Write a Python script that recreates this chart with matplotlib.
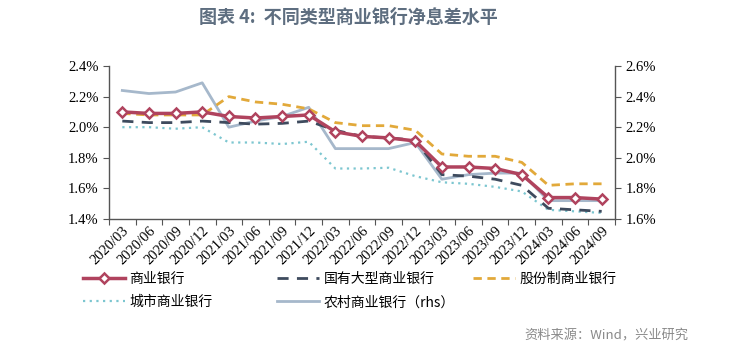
import numpy as np
import matplotlib
matplotlib.use("Agg")
import matplotlib.pyplot as plt
from matplotlib.ticker import FuncFormatter

plt.rcParams['font.family'] = ['Noto Sans CJK SC', 'DejaVu Sans']

quarters = ["2020/03", "2020/06", "2020/09", "2020/12", "2021/03", "2021/06",
            "2021/09", "2021/12", "2022/03", "2022/06", "2022/09", "2022/12",
            "2023/03", "2023/06", "2023/09", "2023/12", "2024/03", "2024/06",
            "2024/09"]

# 净息差 (%)
commercial = [2.10, 2.09, 2.09, 2.10, 2.07, 2.06, 2.07, 2.08, 1.97, 1.94,
              1.93, 1.91, 1.74, 1.74, 1.73, 1.69, 1.54, 1.54, 1.53]
large = [2.04, 2.03, 2.03, 2.04, 2.03, 2.02, 2.025, 2.04, 1.98, 1.94,
         1.93, 1.915, 1.69, 1.68, 1.66, 1.62, 1.47, 1.46, 1.45]
joint = [2.09, 2.08, 2.08, 2.08, 2.20, 2.165, 2.15, 2.12, 2.03, 2.01,
         2.01, 1.98, 1.825, 1.81, 1.81, 1.77, 1.62, 1.63, 1.63]
city = [2.00, 2.00, 1.99, 2.00, 1.90, 1.90, 1.89, 1.905, 1.73, 1.73,
        1.735, 1.68, 1.64, 1.63, 1.61, 1.58, 1.46, 1.45, 1.44]
rural = [2.44, 2.42, 2.43, 2.49, 2.20, 2.24, 2.27, 2.33, 2.06, 2.06,
         2.06, 2.10, 1.86, 1.89, 1.90, 1.90, 1.72, 1.72, 1.72]

c_comm = "#B0435E"
c_large = "#3E4B5E"
c_joint = "#E2A93A"
c_city = "#7CC6D0"
c_rural = "#A6B8CB"
spine_c = "#555555"
num_font = "Liberation Serif"

fig = plt.figure(figsize=(7.32, 3.51), dpi=100)
ax = fig.add_axes([109 / 732, 1 - 219 / 351, (615 - 109) / 732, (219 - 66) / 351])
ax2 = ax.twinx()

x = np.arange(len(quarters))

l_rural, = ax2.plot(x, rural, color=c_rural, lw=2.0, zorder=2)
l_city, = ax.plot(x, city, color=c_city, lw=1.6, ls=(0, (1, 2)), zorder=3)
l_joint, = ax.plot(x, joint, color=c_joint, lw=2.0, ls=(0, (3, 2)), zorder=3)
l_large, = ax.plot(x, large, color=c_large, lw=2.0, ls=(0, (4, 3)), zorder=4)
l_comm, = ax.plot(x, commercial, color=c_comm, lw=2.5, marker="D", ms=5.5,
                  mfc="white", mec=c_comm, mew=1.8, zorder=5)

ax.set_zorder(ax2.get_zorder() + 1)
ax.patch.set_visible(False)

ax.set_xlim(-0.5, len(quarters) - 0.5)
ax.set_ylim(1.4, 2.4)
ax2.set_ylim(1.6, 2.6)
ax.set_yticks(np.arange(1.4, 2.41, 0.2))
ax2.set_yticks(np.arange(1.6, 2.61, 0.2))
pct = FuncFormatter(lambda v, p: f"{v:.1f}%")
ax.yaxis.set_major_formatter(pct)
ax2.yaxis.set_major_formatter(pct)

# ticks at the category boundaries, labels at the centres
ax.set_xticks(np.arange(-0.5, len(quarters), 1.0))
ax.set_xticklabels([])
ax.set_xticks(x, minor=True)
ax.set_xticklabels(quarters, minor=True, rotation=45, ha="right", va="top",
                   rotation_mode="anchor", fontfamily=num_font, fontsize=10.5)
ax.tick_params(axis="x", which="minor", length=0, pad=4)
ax.tick_params(axis="x", which="major", length=4, color=spine_c, direction="out")

for a in (ax, ax2):
    a.tick_params(axis="y", length=4, color=spine_c, labelsize=10.5)
    for lab in a.get_yticklabels():
        lab.set_fontfamily(num_font)
    for s in a.spines.values():
        s.set_color(spine_c)
        s.set_linewidth(1.0)
    a.spines["top"].set_visible(False)

ax.spines["right"].set_visible(False)
ax2.spines["left"].set_visible(False)
ax2.spines["bottom"].set_visible(False)

# legend in three separate columns
leg_kw = dict(loc="upper left", frameon=False, fontsize=10, handlelength=3.0,
              handletextpad=0.35, borderpad=0, borderaxespad=0, labelspacing=0.67)
leg_y = 1 - 272 / 351
fig.legend([l_comm, l_city], ["商业银行", "城市商业银行"],
           bbox_to_anchor=(83 / 732, leg_y), **leg_kw)
fig.legend([l_large, l_rural], ["国有大型商业银行", "农村商业银行（rhs）"],
           bbox_to_anchor=(277 / 732, leg_y), **leg_kw)
fig.legend([l_joint], ["股份制商业银行"],
           bbox_to_anchor=(473 / 732, leg_y), **leg_kw)

fig.text(348 / 732, 1 - 17 / 351, "图表 4:  不同类型商业银行净息差水平", ha="center",
         va="center", fontsize=13, fontweight="bold", color="#5E6E80")
fig.text(688 / 732, 1 - 336 / 351, "资料来源：Wind，兴业研究", ha="right",
         va="center", fontsize=9.5, color="#8A8A8A")

fig.savefig("out.png", dpi=100)
